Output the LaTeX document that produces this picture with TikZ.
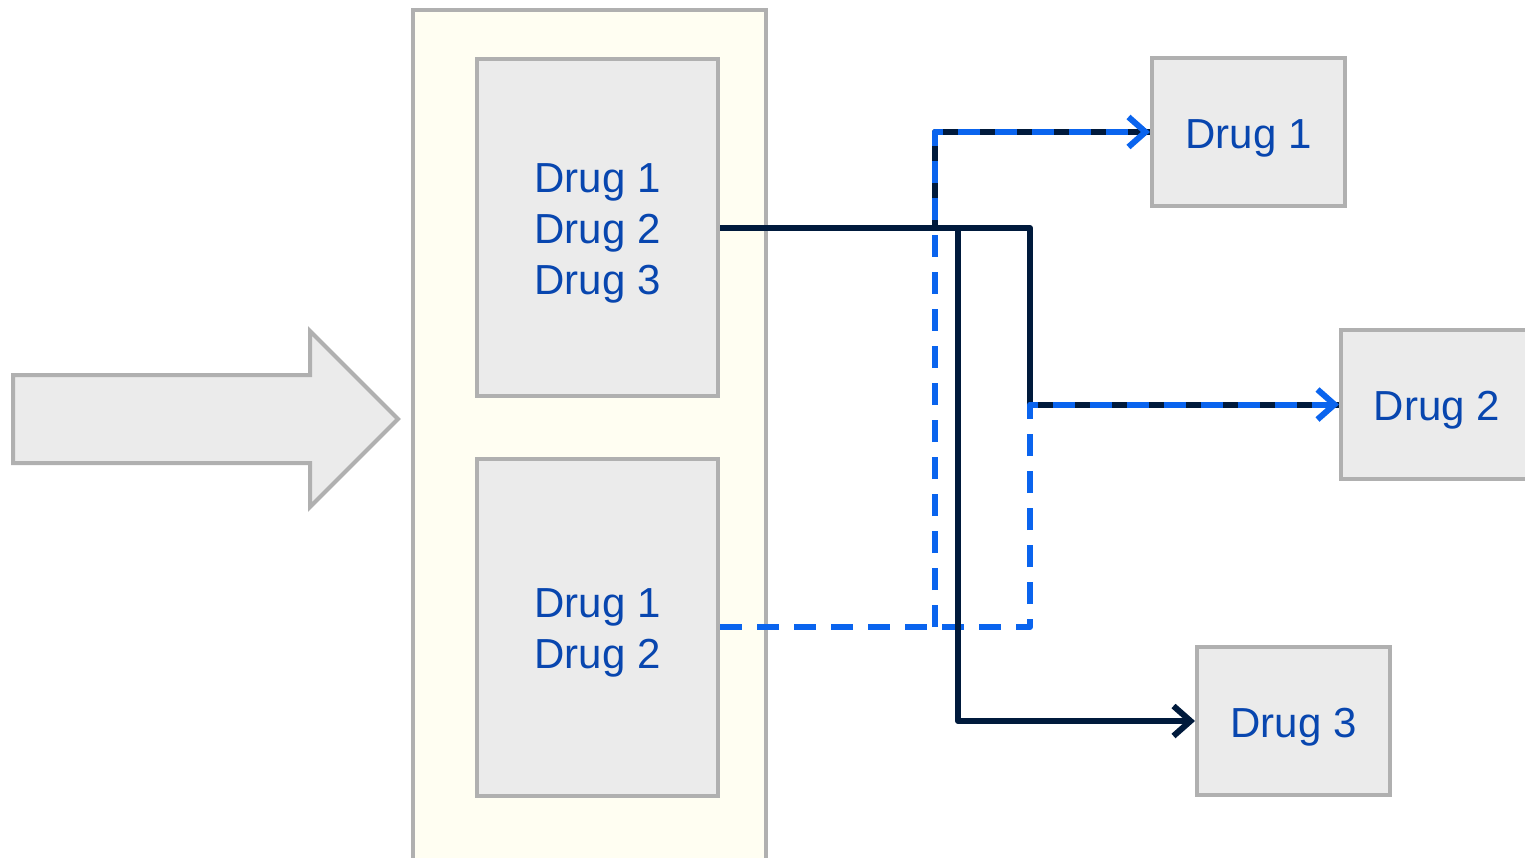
\documentclass[tikz,border=0pt]{standalone}
\usepackage{fontspec}
\setmainfont{Liberation Sans}
\usetikzlibrary{arrows.meta}
\definecolor{txtblue}{RGB}{8,70,175}
\definecolor{dashblue}{RGB}{10,100,238}
\definecolor{navy}{RGB}{0,26,60}
\definecolor{boxgray}{RGB}{235,235,235}
\definecolor{bordergray}{RGB}{176,176,176}
\definecolor{paleyellow}{RGB}{255,254,242}
\newcommand{\topstrut}{\rule{0pt}{41pt}}
\tikzset{
  graybox/.style={draw=bordergray, line width=4pt, fill=boxgray, inner sep=0pt,
    text=txtblue, align=left, font=\fontsize{42}{51}\selectfont},
  container/.style={draw=bordergray, line width=4pt, fill=paleyellow, inner sep=0pt},
  darkline/.style={draw=navy, line width=6pt, line join=round},
  blueline/.style={draw=dashblue, line width=6pt, line join=round, dash pattern=on 22pt off 15pt},
  tip/.style={-{Straight Barb[length=17pt,width=30pt,line width=6pt]}}
}
\begin{document}
\begin{tikzpicture}[x=1pt,y=-1pt]
\useasboundingbox (0,0) rectangle (1525,858);
% big input arrow
\draw[draw=bordergray, line width=4pt, fill=boxgray, line join=miter]
  (13,375) -- (310,375) -- (310,331) -- (398,419) -- (310,507) -- (310,463) -- (13,463) -- cycle;
% container
\node[container, minimum width=353pt, minimum height=870pt] (cont) at (589.5,445) {};
% inner boxes
\node[graybox, minimum width=241pt, minimum height=337pt] (b1) at (597.5,227.5) {\topstrut Drug 1\\Drug 2\\Drug 3};
\node[graybox, minimum width=241pt, minimum height=337pt] (b2) at (597.5,627) {\topstrut Drug 1\\Drug 2};
% output boxes
\node[graybox, minimum width=193pt, minimum height=148pt, align=center] (d1) at (1248.5,132) {\topstrut Drug 1};
\node[graybox, minimum width=192pt, minimum height=148pt, align=center] (d2) at (1437,404.5) {\topstrut Drug 2};
\node[graybox, minimum width=193pt, minimum height=148pt, align=center] (d3) at (1293.5,721) {\topstrut Drug 3};
% junction coordinates
\coordinate (ja) at (935,228);
\coordinate (jb) at (958,228);
\coordinate (jc) at (1030,228);
\coordinate (jd) at (935,627);
\coordinate (je) at (1030,627);
% dark solid connectors
\draw[darkline] (b1.east |- ja) -- (jc) |- (d2.west);
\draw[darkline] (ja) |- (d1.west);
% blue dashed connectors
\draw[blueline, tip] (b2.east |- jd) -- (je) |- (d2.west);
\draw[blueline, tip] (jd) |- (d1.west);
% dark connector to drug 3
\draw[darkline, tip] (jb) |- (d3.west);
\end{tikzpicture}
\end{document}
